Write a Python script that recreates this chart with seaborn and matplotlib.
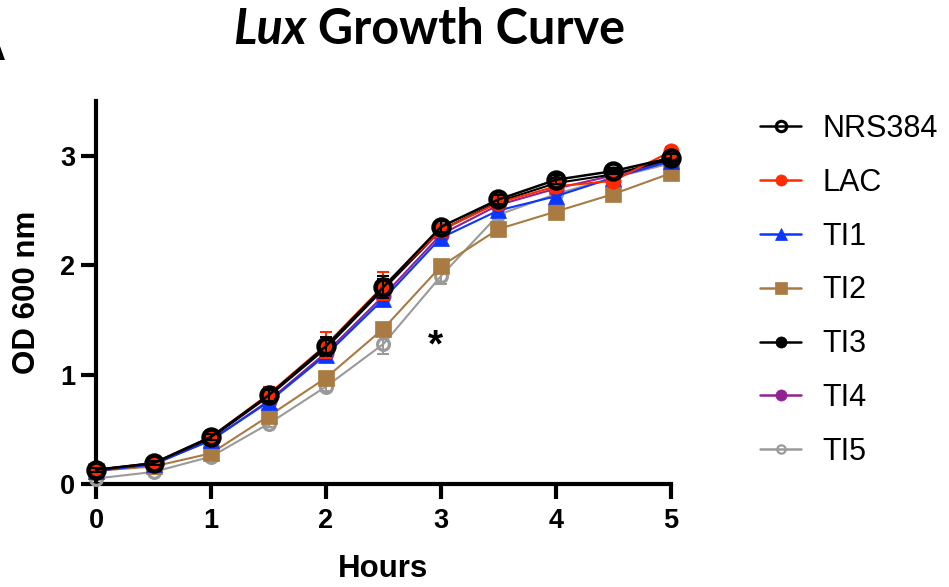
import matplotlib
matplotlib.use("Agg")
import matplotlib.pyplot as plt
import seaborn as sns
import numpy as np
import pandas as pd
from matplotlib.lines import Line2D

# ---------------- data ----------------
hours = [0, 0.5, 1, 1.5, 2, 2.5, 3, 3.5, 4, 4.5, 5]
strains = ["NRS384", "LAC", "TI1", "TI2", "TI3", "TI4", "TI5"]

nrs384 = [0.13, 0.19, 0.43, 0.81, 1.26, 1.80, 2.35, 2.60, 2.78, 2.86, 2.98]
lac    = [0.13, 0.19, 0.43, 0.82, 1.27, 1.81, 2.32, 2.57, 2.72, 2.77, 3.04]
ti1    = [0.12, 0.18, 0.40, 0.75, 1.18, 1.69, 2.25, 2.50, 2.63, 2.80, 2.95]
ti2    = [0.12, 0.16, 0.28, 0.62, 0.97, 1.42, 1.99, 2.33, 2.49, 2.65, 2.84]
ti3    = [0.13, 0.19, 0.42, 0.80, 1.24, 1.78, 2.32, 2.58, 2.75, 2.83, 2.97]
ti4    = [0.12, 0.18, 0.40, 0.76, 1.20, 1.72, 2.28, 2.55, 2.70, 2.82, 2.96]
ti5    = [0.05, 0.11, 0.25, 0.55, 0.89, 1.28, 1.90, 2.46, 2.65, 2.80, 2.93]

nrs384_sd = [0.02, 0.02, 0.03, 0.05, 0.08, 0.10, 0.05, 0.04, 0.04, 0.03, 0.04]
lac_sd    = [0.02, 0.02, 0.03, 0.07, 0.12, 0.13, 0.06, 0.05, 0.05, 0.05, 0.04]
ti1_sd    = [0.02, 0.02, 0.03, 0.05, 0.06, 0.06, 0.05, 0.05, 0.05, 0.05, 0.06]
ti2_sd    = [0.01, 0.02, 0.02, 0.03, 0.04, 0.04, 0.04, 0.04, 0.04, 0.03, 0.04]
ti3_sd    = [0.02, 0.02, 0.03, 0.05, 0.07, 0.09, 0.05, 0.04, 0.04, 0.03, 0.04]
ti4_sd    = [0.02, 0.02, 0.03, 0.05, 0.05, 0.06, 0.05, 0.04, 0.04, 0.04, 0.04]
ti5_sd    = [0.01, 0.02, 0.02, 0.03, 0.04, 0.09, 0.07, 0.05, 0.04, 0.04, 0.04]

means = dict(zip(strains, [nrs384, lac, ti1, ti2, ti3, ti4, ti5]))
sds = dict(zip(strains, [nrs384_sd, lac_sd, ti1_sd, ti2_sd, ti3_sd, ti4_sd, ti5_sd]))

# ---------------- style ----------------
styles = {
    "NRS384": dict(color="#000000", marker="o", mfc="none", ms=11.5, mew=3.2, lw=1.8, z=9),
    "LAC":    dict(color="#FF2A00", marker="o", mfc="#FF2A00", ms=11, mew=0.5, lw=1.5, z=8),
    "TI1":    dict(color="#0A36FF", marker="^", mfc="#0A36FF", ms=11, mew=0.5, lw=1.5, z=6),
    "TI2":    dict(color="#A97A42", marker="s", mfc="#A97A42", ms=11, mew=0.5, lw=1.5, z=4),
    "TI3":    dict(color="#000000", marker="o", mfc="#000000", ms=11, mew=0.5, lw=1.5, z=7),
    "TI4":    dict(color="#922191", marker="o", mfc="#922191", ms=11, mew=0.5, lw=1.5, z=5),
    "TI5":    dict(color="#9A9A9A", marker="o", mfc="none", ms=8.5, mew=2.3, lw=1.5, z=3),
}

sns.set_theme(style="ticks")
plt.rcParams["font.family"] = ["Liberation Sans", "DejaVu Sans"]
plt.rcParams["text.color"] = "black"
plt.rcParams["axes.labelcolor"] = "black"

fig = plt.figure(figsize=(9.49, 5.87), dpi=100)
ax = fig.add_axes([0.1012, 0.1755, 0.6058, 0.6524])

draw_order = ["TI5", "TI2", "TI4", "TI1", "TI3", "LAC", "NRS384"]
for s in draw_order:
    st = styles[s]
    df = pd.DataFrame({"Hours": hours, "OD": means[s]})
    ax.errorbar(hours, means[s], yerr=sds[s], fmt="none", ecolor=st["color"],
                elinewidth=1.5, capsize=4.5, capthick=1.5, zorder=st["z"] - 0.5,
                clip_on=False)
    sns.lineplot(data=df, x="Hours", y="OD", ax=ax, color=st["color"],
                 marker=st["marker"], markersize=st["ms"],
                 markerfacecolor=st["mfc"], markeredgecolor=st["color"],
                 markeredgewidth=st["mew"], linewidth=st["lw"],
                 zorder=st["z"], clip_on=False, legend=False, errorbar=None)

ax.set_xlim(0, 5)
ax.set_ylim(0, 3.5)
ax.set_xticks([0, 1, 2, 3, 4, 5])
ax.set_yticks([0, 1, 2, 3])
ax.set_xticklabels(["0", "1", "2", "3", "4", "5"])
ax.set_yticklabels(["0", "1", "2", "3"])
for sp in ["top", "right"]:
    ax.spines[sp].set_visible(False)
for sp in ["left", "bottom"]:
    ax.spines[sp].set_linewidth(3)
    ax.spines[sp].set_color("black")
ax.tick_params(axis="both", width=3, length=11, direction="out", colors="black",
               labelsize=19.5)
ax.tick_params(axis="x", pad=6)
ax.tick_params(axis="y", pad=4)
for lab in ax.get_xticklabels() + ax.get_yticklabels():
    lab.set_fontweight("bold")

ax.set_xlabel("Hours", fontsize=22.5, fontweight="bold", labelpad=15)
ax.set_ylabel("OD 600 nm", fontsize=22.5, fontweight="bold", labelpad=13)

ax.text(2.95, 1.26, "*", fontsize=28, fontweight="bold", ha="center", va="center")

# legend
handles = []
for s in strains:
    st = styles[s]
    lms = 8 if s not in ("NRS384", "TI5") else (7.5 if s == "NRS384" else 6)
    lmew = 2.2 if s == "NRS384" else (1.6 if s == "TI5" else 0.5)
    handles.append(Line2D([0], [0], color=st["color"], marker=st["marker"],
                          markersize=lms, markerfacecolor=st["mfc"],
                          markeredgecolor=st["color"], markeredgewidth=lmew,
                          linewidth=1.8))
fig.legend(handles, strains, loc="upper left", bbox_to_anchor=(0.8008, 0.806),
           frameon=False, fontsize=22, handlelength=1.35, handletextpad=0.7,
           labelspacing=0.78, borderpad=0, borderaxespad=0)

# title with italic "Lux"
ybase = 1 - 44 / 587
t1 = fig.text(233 / 949, ybase, "Lux", fontsize=35, fontweight="bold",
              fontstyle="italic", family=["Lato", "DejaVu Sans"], ha="left",
              va="baseline")
fig.canvas.draw()
bb = t1.get_window_extent()
fig.text(bb.x1 / fig.bbox.width, ybase, " Growth Curve", fontsize=35,
         fontweight="bold", family=["Lato", "DejaVu Sans"], ha="left",
         va="baseline")

# panel letter (cut off at the left edge, as in the source figure)
fig.text(-0.025, 1 - 60 / 587, "A", fontsize=30, fontweight="bold", ha="left",
         va="baseline")

fig.savefig("out.png", dpi=100)
